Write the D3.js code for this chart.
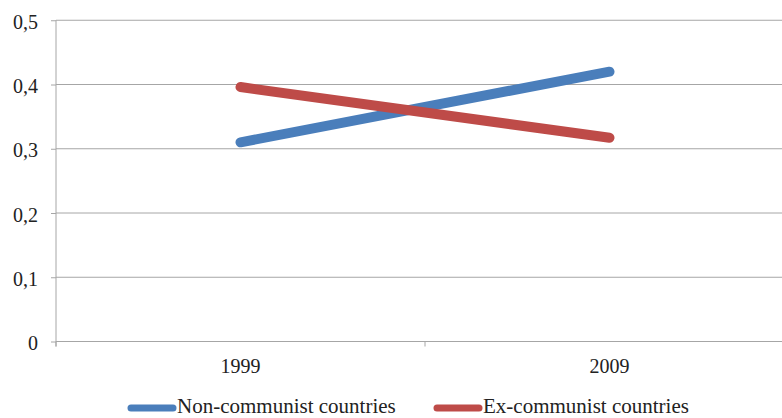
<!DOCTYPE html>
<html><head><meta charset="utf-8">
<script src="https://cdn.jsdelivr.net/npm/d3@7"></script>
<style>body{margin:0;background:#fff}svg{display:block}
svg text{font-family:"Liberation Serif","Times New Roman","DejaVu Serif",serif;font-size:20px;fill:#222}
svg .legend text{font-size:21px}</style>
</head><body>
<svg id="c" width="782" height="418"></svg>
<script>
const categories = ["1999", "2009"];
const seriesNames = ["Non-communist countries", "Ex-communist countries"];
const nonCommunist = [0.31, 0.42];
const exCommunist = [0.396, 0.317];
const yTicks = [0, 0.1, 0.2, 0.3, 0.4, 0.5];
const yTickLabels = ["0", "0,1", "0,2", "0,3", "0,4", "0,5"];
const colors = ["#4a7ebb", "#be4b48"];

const svg = d3.select("#c");
const mLeft = 56, mRight = 794, mTop = 20.25, mBottom = 341.5;
const x = d3.scaleBand().domain(categories).range([mLeft, mRight]);
const y = d3.scaleLinear().domain([0, 0.5]).range([mBottom, mTop]);
const axisColor = "#a6a6a6";

// gridlines
svg.append("g").selectAll("line").data(yTicks.slice(1)).join("line")
  .attr("x1", mLeft).attr("x2", 782)
  .attr("y1", d => y(d)).attr("y2", d => y(d))
  .attr("stroke", axisColor).attr("stroke-width", 1);

// y axis
const yAxis = d3.axisLeft(y).tickValues(yTicks).tickSize(5).tickPadding(13)
  .tickFormat((d, i) => yTickLabels[i]);
const gy = svg.append("g").attr("transform", `translate(${mLeft},0)`).call(yAxis);
gy.attr("font-family", null).attr("font-size", null);
gy.select(".domain").attr("stroke", axisColor).attr("d", `M0,${mTop}V${mBottom + 5}`);
gy.selectAll(".tick line").attr("stroke", axisColor);
gy.selectAll(".tick text").attr("fill", null).attr("dy", "0.4em");

// x axis
const xAxis = d3.axisBottom(x).tickSize(0).tickPadding(17);
const gx = svg.append("g").attr("transform", `translate(0,${mBottom})`).call(xAxis);
gx.attr("font-family", null).attr("font-size", null);
gx.select(".domain").attr("stroke", axisColor).attr("d", `M${mLeft},0H782`);
gx.selectAll(".tick text").attr("fill", null);
const bounds = categories.map(c => x(c)).concat([x(categories[1]) + x.bandwidth()]);
gx.append("g").selectAll("line").data(bounds).join("line")
  .attr("x1", d => d).attr("x2", d => d).attr("y1", 0).attr("y2", 5)
  .attr("stroke", axisColor);

// lines
const line = d3.line().x((d, i) => x(categories[i]) + x.bandwidth() / 2).y(d => y(d));
[nonCommunist, exCommunist].forEach((s, i) => {
  svg.append("path").datum(s).attr("d", line)
    .attr("fill", "none").attr("stroke", colors[i]).attr("stroke-width", 10)
    .attr("stroke-linecap", "round");
});

// legend
const legX = [131, 437];
const leg = svg.append("g").attr("class", "legend");
seriesNames.forEach((n, i) => {
  const g = leg.append("g").attr("transform", `translate(${legX[i]},408)`);
  g.append("line").attr("x1", 0).attr("x2", 42).attr("y1", 0).attr("y2", 0)
    .attr("stroke", colors[i]).attr("stroke-width", 7).attr("stroke-linecap", "round");
  g.append("text").attr("x", 46).attr("y", 4.5).text(n);
});
</script>
</body></html>
